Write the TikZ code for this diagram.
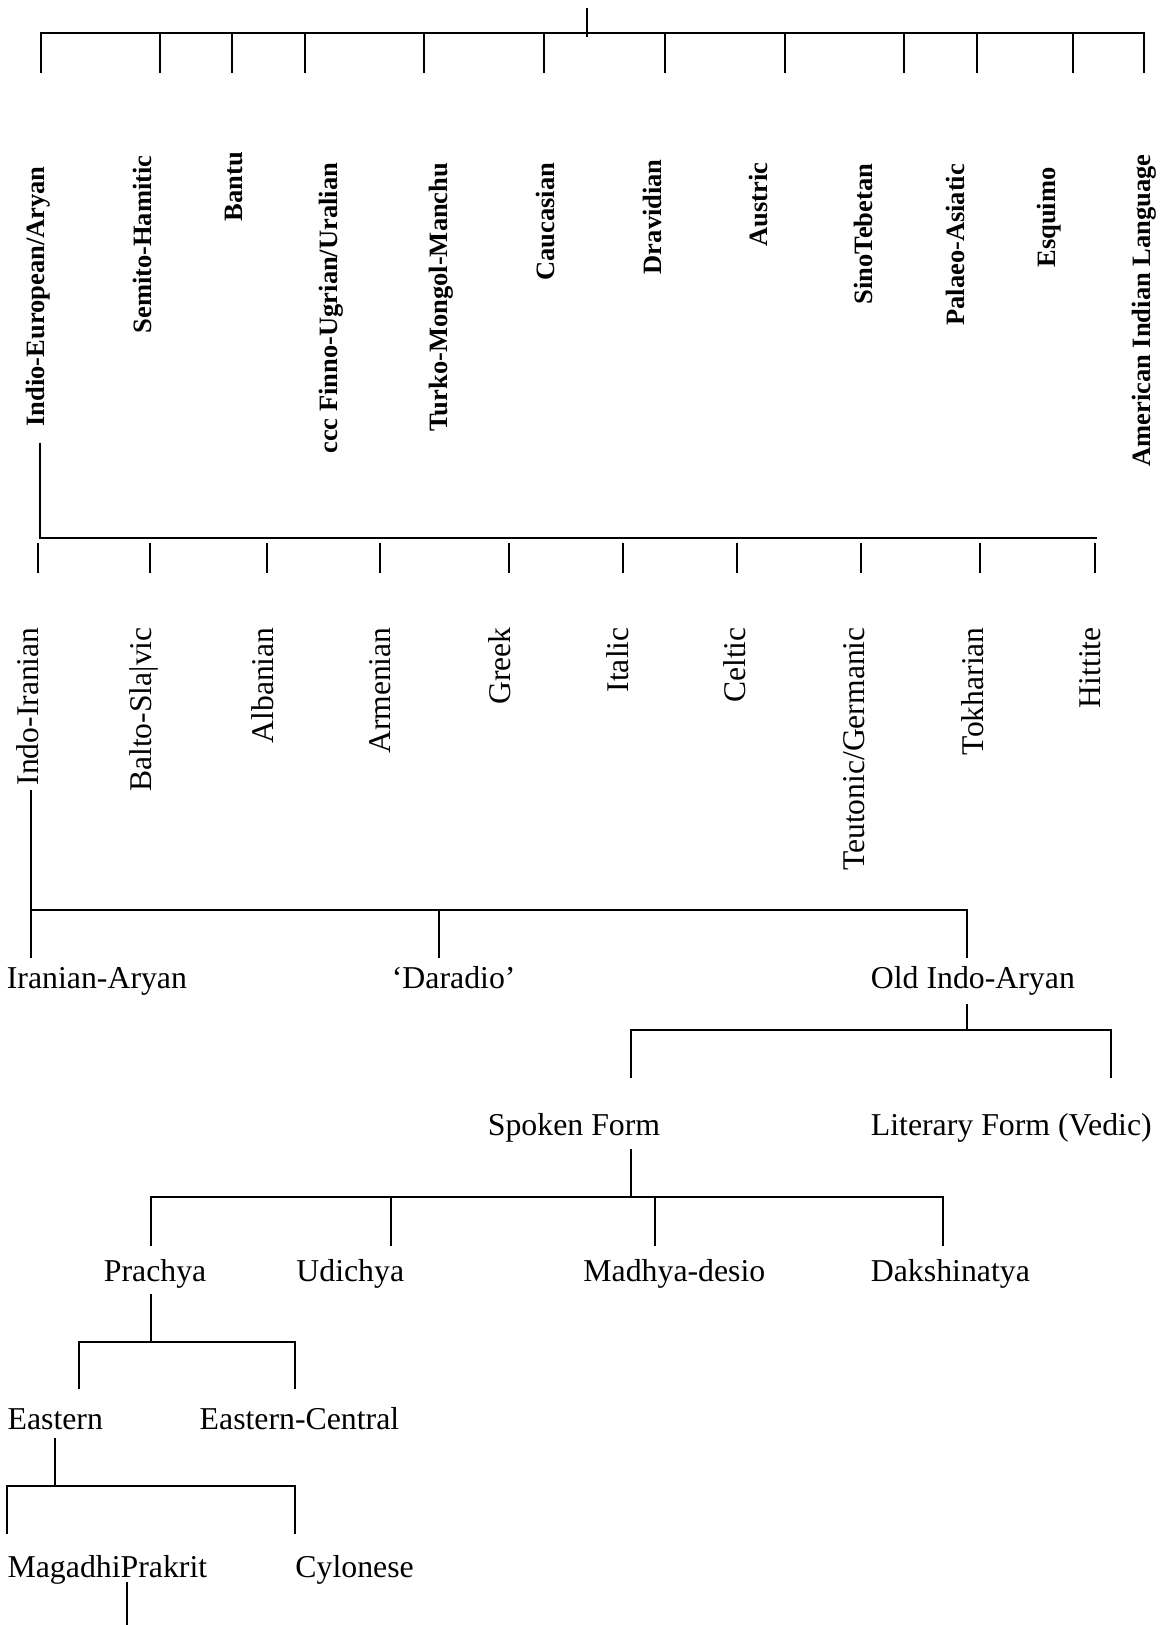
\documentclass[tikz,border=0pt]{standalone}
\usepackage{fontspec}
\setmainfont{Liberation Serif}
\begin{document}
\begin{tikzpicture}[x=0.5pt,y=-0.5pt]
\tikzset{
  ln/.style={line width=1pt},
  boldlab/.style={font=\fontsize{13.25}{16}\selectfont\bfseries, rotate=90, anchor=east, inner sep=0pt},
  rotlab/.style={font=\fontsize{15.8}{19}\selectfont, rotate=90, anchor=east, inner sep=0pt},
  horlab/.style={font=\fontsize{15.9}{19}\selectfont, anchor=base west, inner sep=0pt},
}
\useasboundingbox (0,0) rectangle (1160,1625);

% ---------- top level ----------
\coordinate (root) at (586.7,8);
\coordinate (rootj) at (586.7,37);
\draw[ln] (root) -- (rootj);
\foreach \i/\x in {1/40.6,2/160.3,3/232.3,4/304.6,5/424,6/544.2,7/664.5,8/784.6,9/904.4,10/976.5,11/1072.5,12/1144.4}{
  \coordinate (ta\i) at (\x,33.2);
  \coordinate (tb\i) at (\x,72.7);
}
\draw[ln] (tb1) -- (ta1) -- (ta12) -- (tb12);
\foreach \i in {2,...,11}{ \draw[ln] (ta\i) -- (tb\i); }

\node[boldlab] (f1)  at (38.3,166)   {Indio-European/Aryan};
\node[boldlab] (f2)  at (142.6,155)  {Semito-Hamitic};
\node[boldlab] (f3)  at (234.4,151.7){Bantu};
\node[boldlab] (f4)  at (331,162.4)  {ccc Finno-Ugrian/Uralian};
\node[boldlab] (f5)  at (441,162.4)  {Turko-Mongol-Manchu};
\node[boldlab] (f6)  at (545.4,162.4){Caucasian};
\node[boldlab] (f7)  at (652.8,158.9){Dravidian};
\node[boldlab] (f8)  at (758,162.4)  {Austric};
\node[boldlab] (f9)  at (863.3,163.5){SinoTebetan};
\node[boldlab] (f10) at (955.5,163.5){Palaeo-Asiatic};
\node[boldlab] (f11) at (1049.5,167) {Esquimo};
\node[boldlab] (f12) at (1144.5,154) {American Indian Language};

% ---------- Indo-European branch ----------
\coordinate (ie1) at (40.3,442.7);
\coordinate (ie2) at (40.3,538);
\coordinate (ie3) at (1097,538);
\draw[ln] (ie1) -- (ie2) -- (ie3);
\foreach \i/\x in {1/38.3,2/150,3/266.7,4/379.6,5/509,6/623.1,7/736.8,8/861.2,9/980.2,10/1095}{
  \coordinate (sa\i) at (\x,543);
  \coordinate (sb\i) at (\x,573);
  \draw[ln] (sa\i) -- (sb\i);
}
\node[rotlab] (s1)  at (27.5,627)  {Indo-Iranian};
\node[rotlab] (s2)  at (144,627)   {Balto-Sla|vic};
\node[rotlab] (s3)  at (262.7,627) {Albanian};
\node[rotlab] (s4)  at (380,627)   {Armenian};
\node[rotlab] (s5)  at (499.5,627) {Greek};
\node[rotlab] (s6)  at (617.4,627) {Italic};
\node[rotlab] (s7)  at (735,627)   {Celtic};
\node[rotlab] (s8)  at (853.7,627) {Teutonic/Germanic};
\node[rotlab] (s9)  at (972.4,627) {Tokharian};
\node[rotlab] (s10) at (1090,627)  {Hittite};

% ---------- Indo-Iranian branch ----------
\coordinate (ii1) at (31,790);
\coordinate (ii2) at (31,910);
\coordinate (ii3) at (31,958.3);
\coordinate (ii4) at (966.7,910);
\coordinate (ii5) at (966.7,958.3);
\coordinate (da1) at (438.7,910);
\coordinate (da2) at (438.7,958.3);
\draw[ln] (ii1) -- (ii3);
\draw[ln] (ii2) -- (ii4) -- (ii5);
\draw[ln] (da1) -- (da2);

\node[horlab] (ia)  at (6.5,988.3)   {Iranian-Aryan};
\node[horlab] (dar) at (391.5,988.3) {‘Daradio’};
\node[horlab] (oia) at (870.5,988.3) {Old Indo-Aryan};

% ---------- Old Indo-Aryan ----------
\coordinate (oa1) at (966.7,1003.8);
\coordinate (oa2) at (966.7,1029.5);
\coordinate (sp1) at (631,1029.5);
\coordinate (sp2) at (631,1077.7);
\coordinate (lf1) at (1111.2,1029.5);
\coordinate (lf2) at (1111.2,1077.7);
\draw[ln] (oa1) -- (oa2);
\draw[ln] (sp2) -- (sp1) -- (lf1) -- (lf2);

\node[horlab] (spk) at (487.5,1135.3) {Spoken Form};
\node[horlab] (lit) at (870.5,1135.3) {Literary Form (Vedic)};

% ---------- Spoken Form ----------
\coordinate (sf1) at (631,1149);
\coordinate (sf2) at (631,1197.3);
\coordinate (pr1) at (151.2,1197.3);
\coordinate (pr2) at (151.2,1246);
\coordinate (ud1) at (390.7,1197.3);
\coordinate (ud2) at (390.7,1246);
\coordinate (md1) at (654.6,1197.3);
\coordinate (md2) at (654.6,1246);
\coordinate (dk1) at (942.7,1197.3);
\coordinate (dk2) at (942.7,1246);
\draw[ln] (sf1) -- (sf2);
\draw[ln] (pr2) -- (pr1) -- (dk1) -- (dk2);
\draw[ln] (ud1) -- (ud2);
\draw[ln] (md1) -- (md2);

\node[horlab] (pra) at (103.5,1281) {Prachya};
\node[horlab] (udi) at (296,1281)   {Udichya};
\node[horlab] (mad) at (583,1281)   {Madhya-desio};
\node[horlab] (dak) at (870.5,1281) {Dakshinatya};

% ---------- Prachya ----------
\coordinate (pc1) at (151.2,1293.8);
\coordinate (pc2) at (151.2,1341.6);
\coordinate (ea1) at (78.8,1341.6);
\coordinate (ea2) at (78.8,1389.4);
\coordinate (ec1) at (295,1341.6);
\coordinate (ec2) at (295,1389.4);
\draw[ln] (pc1) -- (pc2);
\draw[ln] (ea2) -- (ea1) -- (ec1) -- (ec2);

\node[horlab] (eas) at (7.2,1429.7)   {Eastern};
\node[horlab] (ecn) at (199.3,1429.7) {Eastern-Central};

% ---------- Eastern ----------
\coordinate (es1) at (54.7,1437.7);
\coordinate (es2) at (54.7,1486.3);
\coordinate (mg1) at (6.9,1486.3);
\coordinate (mg2) at (6.9,1534.1);
\coordinate (cy1) at (295,1486.3);
\coordinate (cy2) at (295,1534.1);
\draw[ln] (es1) -- (es2);
\draw[ln] (mg2) -- (mg1) -- (cy1) -- (cy2);

\node[horlab] (mag) at (7.2,1577)  {MagadhiPrakrit};
\node[horlab] (cyl) at (295,1577)  {Cylonese};

% ---------- Magadhi ----------
\coordinate (mp1) at (127,1582);
\coordinate (mp2) at (127,1625);
\draw[ln] (mp1) -- (mp2);
\end{tikzpicture}
\end{document}
